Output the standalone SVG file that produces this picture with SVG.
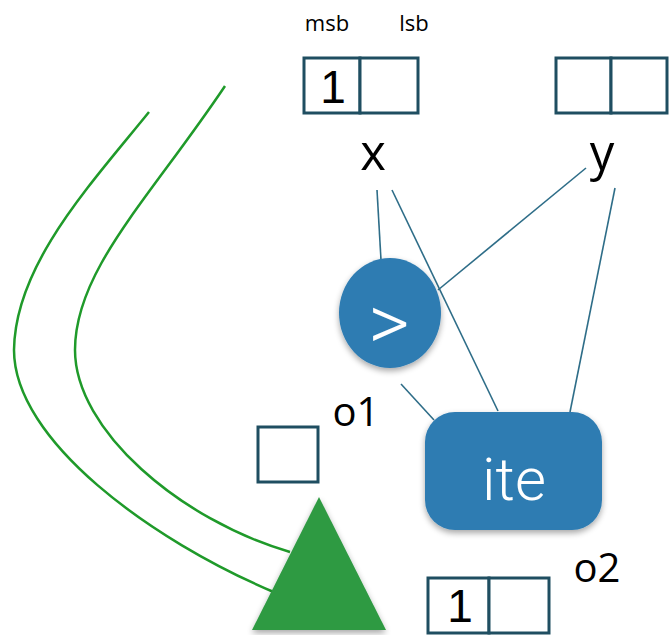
<svg xmlns="http://www.w3.org/2000/svg" width="669" height="635" viewBox="0 0 669 635">
<style>
.box{fill:#fff;stroke:#1f4e61;stroke-width:3}
.lbl{font-family:"Open Sans","DejaVu Sans",sans-serif;fill:#000}
.one{font-family:"Liberation Sans",Arial,sans-serif;font-size:46px;fill:#000;text-anchor:middle}
.edge{stroke:#2e6d88;stroke-width:1.6;fill:none}
.wire{stroke:#1f9a2a;stroke-width:2.5;fill:none}
.op{fill:#2e7cb2;filter:url(#sh)}
.optxt{font-family:"Roboto","Liberation Sans",sans-serif;font-weight:300;fill:#fff;text-anchor:middle}
</style>
<defs>
<filter id="sh" x="-20%" y="-20%" width="140%" height="140%">
<feGaussianBlur in="SourceAlpha" stdDeviation="3"/>
<feOffset dx="0" dy="3" result="b"/>
<feComponentTransfer><feFuncA type="linear" slope="0.35"/></feComponentTransfer>
<feMerge><feMergeNode/><feMergeNode in="SourceGraphic"/></feMerge>
</filter>
</defs>
<g id="connectors">
<line class="edge" x1="377" y1="190" x2="381" y2="260"/>
<line class="edge" x1="392" y1="190" x2="498" y2="411"/>
<line class="edge" x1="586" y1="168" x2="438" y2="290"/>
<line class="edge" x1="615" y1="188" x2="570" y2="412"/>
<line class="edge" x1="401" y1="384" x2="434" y2="420"/>
<path class="wire" d="M225,86 C150,198 75,270 75,350 C75,430 180,520 290,552"/>
<path class="wire" d="M149,112 C90,185 15,265 14,350 C14,440 150,540 276,593"/>
</g>
<g id="labels">
<text class="lbl" x="327" y="31" font-size="22" text-anchor="middle">msb</text>
<text class="lbl" x="414" y="31" font-size="22" text-anchor="middle">lsb</text>
</g>
<g id="x">
<rect class="box" x="304" y="58" width="56" height="55"/>
<rect class="box" x="360" y="58" width="58" height="55"/>
<text class="one" x="333" y="103">1</text>
<text class="lbl" x="373" y="170" font-size="49" text-anchor="middle">x</text>
</g>
<g id="y">
<rect class="box" x="556" y="58" width="55" height="55"/>
<rect class="box" x="611" y="58" width="56" height="55"/>
<text class="lbl" x="602" y="170" font-size="49" text-anchor="middle">y</text>
</g>
<g id="gt">
<ellipse class="op" cx="390" cy="313" rx="51" ry="55"/>
<text class="optxt" x="389" y="350" font-size="80">&gt;</text>
<text class="lbl" x="356" y="426" font-size="40" text-anchor="middle">o1</text>
</g>
<g id="ite">
<rect class="op" x="425" y="412" width="177" height="118" rx="30"/>
<text class="optxt" x="514" y="500" font-size="60">ite</text>
<text class="lbl" x="597" y="582" font-size="40" text-anchor="middle">o2</text>
</g>
<g id="out">
<rect class="box" x="428" y="578" width="61" height="55"/>
<rect class="box" x="489" y="578" width="60" height="55"/>
<text class="one" x="460" y="622">1</text>
</g>
<g id="small">
<rect class="box" x="258" y="427" width="60" height="55"/>
</g>
<g id="tri">
<polygon points="319,497 386,630 252,630" fill="#2f9a42" filter="url(#sh)"/>
</g>
</svg>
